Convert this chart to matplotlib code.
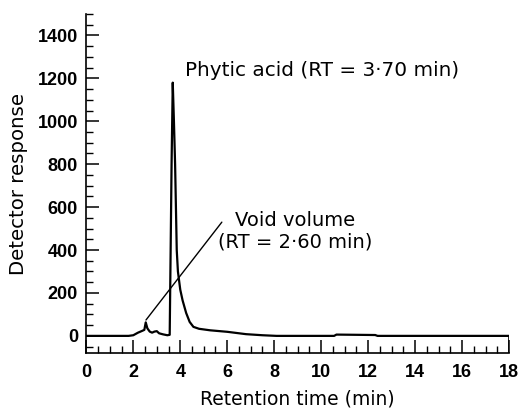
import matplotlib
matplotlib.use("Agg")
import matplotlib.pyplot as plt
from matplotlib.ticker import MultipleLocator

plt.rcParams['font.family'] = ['DejaVu Sans']

# chromatogram trace
time_min = [0.0, 1.8, 2.0, 2.2, 2.37, 2.47, 2.53, 2.6, 2.7, 2.8, 2.9, 3.0, 3.1, 3.27,
            3.45, 3.55, 3.59, 3.63, 3.68, 3.73, 3.78, 3.85, 3.9, 4.0, 4.1, 4.25,
            4.4, 4.56, 4.8, 5.27, 6.0, 6.8, 7.5, 8.1, 10.55, 10.65, 12.3, 12.4, 18.0]
response = [0, 0, 3, 15, 23, 28, 63, 35, 20, 15, 20, 22, 12, 7,
            3, 5, 400, 800, 1180, 1000, 800, 400, 300, 215, 165, 107,
            65, 42, 33, 26, 19, 8, 3, 0, 0, 6, 4, 0, 0]

phytic_label = "Phytic acid (RT = 3\u00b770 min)"
void_label = "Void volume\n(RT = 2\u00b760 min)"

fig = plt.figure(figsize=(5.2, 4.11), dpi=100)
ax = fig.add_axes([0.166, 0.141, 0.813, 0.825])

ax.plot(time_min, response, color='black', lw=1.6)
ax.plot([18, 18], [-80, 0], color='black', lw=1.2)

ax.set_xlim(0, 18)
ax.set_ylim(-80, 1500)
ax.xaxis.set_major_locator(MultipleLocator(2))
ax.xaxis.set_minor_locator(MultipleLocator(0.5))
ax.yaxis.set_minor_locator(MultipleLocator(50))
ax.set_yticks(range(0, 1401, 200))

for s in ['top', 'right']:
    ax.spines[s].set_visible(False)
for s in ['left', 'bottom']:
    ax.spines[s].set_linewidth(1.2)

ax.tick_params(which='major', direction='in', length=9.5, width=1.1,
               labelsize=13)
ax.tick_params(axis='x', which='major', pad=8)
ax.tick_params(axis='y', which='major', pad=6)
ax.tick_params(which='minor', direction='in', length=5, width=1.0)
for lab in ax.get_xticklabels() + ax.get_yticklabels():
    lab.set_fontweight('bold')
    lab.set_family('Liberation Sans')

ax.set_xlabel("Retention time (min)", fontsize=13.5, labelpad=6)
ax.set_ylabel("Detector response", fontsize=14.2, labelpad=7)

ax.text(4.2, 1237, phytic_label, fontsize=14.4, va='center', ha='left')
ax.text(8.9, 488, void_label, fontsize=14, ha='center', va='center',
        linespacing=1.12)
ax.annotate('', xy=(2.54, 74), xytext=(5.77, 530),
            arrowprops=dict(arrowstyle='-', lw=1.0, color='black',
                            shrinkA=0, shrinkB=0))

fig.savefig("out.png", dpi=100)
